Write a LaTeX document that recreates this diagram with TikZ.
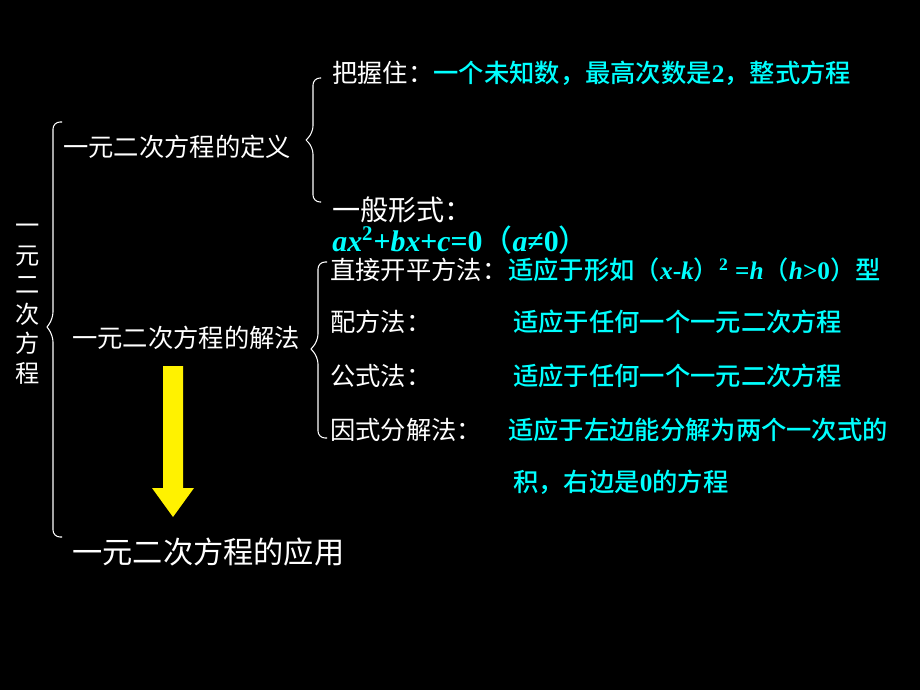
\documentclass[tikz,border=0pt]{standalone}
\usepackage{fontspec}
\setmainfont{Noto Sans CJK SC}
\newfontfamily\cjkmed{Noto Sans CJK SC Medium}
\newfontfamily\tnr{Liberation Serif}
\newcommand{\lat}[1]{{\tnr\bfseries #1}}
\definecolor{formcyan}{RGB}{0,255,255}

\begin{document}
\begin{tikzpicture}[x=0.02cm, y=-0.02cm,
    lbl/.style={anchor=west, inner sep=0pt, text=white, font=\fontsize{14.4}{17}\selectfont},
    note/.style={lbl, text=formcyan, font=\fontsize{14.4}{17}\selectfont\cjkmed},
    brace/.style={white, line width=0.6pt, rounded corners=4pt}]
    \fill[black] (0,0) rectangle (920,690);
    % title, written top to bottom
    \node[lbl, anchor=center, align=center, font=\fontsize{13.8}{16.8}\selectfont] (title) at (28,304) {一\\元\\二\\次\\方\\程};
    \draw[brace] (62,122) -- (53,122) -- (53,319) -- (47,327);
    \draw[brace] (47,327) -- (53,335) -- (53,537) -- (62,537);
    % first level
    \node[lbl] (dingyi) at (63,147) {一元二次方程的定义};
    \node[lbl] (jiefa) at (72,338) {一元二次方程的解法};
    \node[lbl, font=\fontsize{17.2}{20}\selectfont] (yingyong) at (72,552) {一元二次方程的应用};
    \fill[yellow] (163,366) -- (183,366) -- (183,488) -- (194,488) -- (173,517) -- (152,488) -- (163,488) -- cycle;
    % definition
    \draw[brace] (321,78) -- (313,78) -- (313,133) -- (306,140);
    \draw[brace] (306,140) -- (313,147) -- (313,202) -- (321,202);
    \node[lbl] (bawo) at (332,73) {把握住：{\color{formcyan}\cjkmed 一个未知数，最高次数是\lat{2}，整式方程}};
    \node[lbl, font=\fontsize{16}{19}\selectfont] (yiban) at (332,210) {一般形式：};
    \node[note, font=\fontsize{17}{19}\selectfont\cjkmed] (xingshi) at (332,240) {\lat{\itshape ax\upshape\textsuperscript{2}+\itshape bx\upshape +\itshape c\upshape =0}（\lat{\itshape a\/\upshape ≠0}）};
    % methods
    \draw[brace] (327,262) -- (318,262) -- (318,341) -- (311,349);
    \draw[brace] (311,349) -- (318,357) -- (318,438) -- (327,438);
    \node[lbl] (zhijie) at (330,270) {直接开平方法：};
    \node[note] (zhijiey) at (508,270) {适应于形如（\lat{\itshape x\upshape -\itshape k}）\lat{\textsuperscript{2} =\itshape h}（\lat{\itshape h\upshape >0}）型};
    \node[lbl] (peifang) at (330,322) {配方法：};
    \node[note] (peifangy) at (513,322) {适应于任何一个一元二次方程};
    \node[lbl] (gongshi) at (330,376) {公式法：};
    \node[note] (gongshiy) at (513,376) {适应于任何一个一元二次方程};
    \node[lbl] (yinshi) at (330,430) {因式分解法：};
    \node[note] (yinshiy) at (508,430) {适应于左边能分解为两个一次式的};
    \node[note] (yinshiz) at (513,482) {积，右边是\lat{0}的方程};
\end{tikzpicture}
\end{document}
